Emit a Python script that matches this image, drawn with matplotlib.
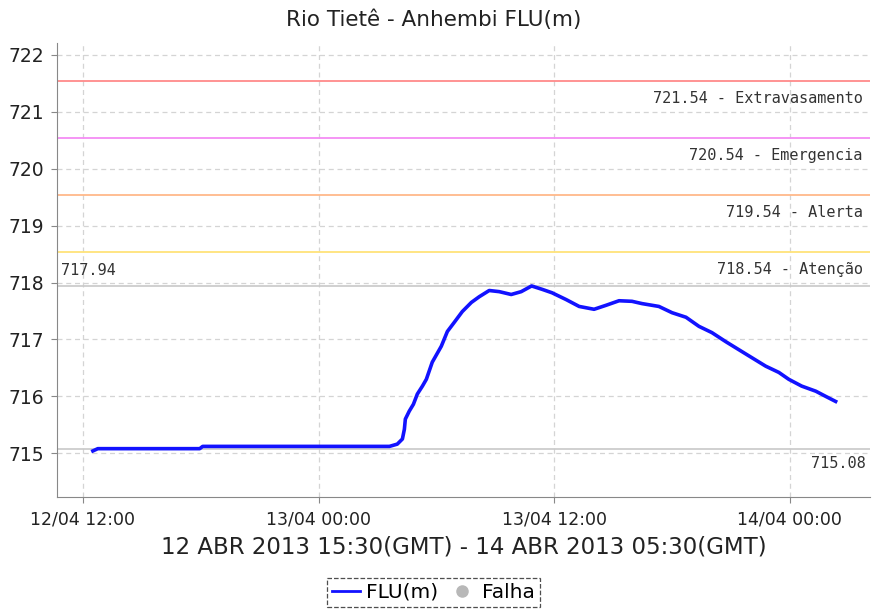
import numpy as np
import pandas as pd
import matplotlib
matplotlib.use('Agg')
import matplotlib.pyplot as plt
import matplotlib.dates as mdates
from matplotlib.lines import Line2D

# Leituras do nível (horas a partir de 12/04 12:00, valor em m)
horas = [0.51, 0.76, 5.95, 6.10, 15.61, 16.01, 16.27, 16.37, 16.42, 16.62,
         16.83, 17.03, 17.29, 17.49, 17.79, 18.25, 18.56, 18.91, 19.32, 19.78,
         20.18, 20.69, 21.20, 21.81, 22.32, 22.85, 23.39, 23.89, 24.61, 25.27,
         26.03, 26.64, 27.30, 27.96, 28.47, 29.33, 30.00, 30.71, 31.37, 32.03,
         32.74, 33.40, 34.06, 34.77, 35.44, 35.94, 36.60, 37.32, 37.82, 38.33]
nivel = [715.04, 715.08, 715.08, 715.12, 715.12, 715.16, 715.25, 715.42, 715.60, 715.74,
         715.86, 716.04, 716.18, 716.30, 716.60, 716.88, 717.14, 717.30, 717.49, 717.65,
         717.75, 717.86, 717.84, 717.79, 717.84, 717.94, 717.88, 717.82, 717.70, 717.58,
         717.53, 717.60, 717.68, 717.67, 717.63, 717.58, 717.47, 717.39, 717.23, 717.12,
         716.96, 716.82, 716.68, 716.53, 716.42, 716.30, 716.18, 716.09, 716.00, 715.91]

# Cotas de referência
cotas = [721.54, 720.54, 719.54, 718.54]
cotas_nomes = ['Extravasamento', 'Emergencia', 'Alerta', 'Atenção']
cotas_cores = ['#ff8a8a', '#f58cf5', '#ffb98a', '#ffe37a']
nivel_max = 717.94
nivel_min = 715.08

inicio = pd.Timestamp('2013-04-12 12:00')
tempos = [inicio + pd.Timedelta(hours=h) for h in horas]

fig = plt.figure(figsize=(8.72, 6.13), dpi=100)
ax = fig.add_axes([0.0654, 0.1892, 0.932, 0.7406])

mono = dict(family='DejaVu Sans Mono', fontsize=11, color='#333333')

# Linhas de cota
for c, nome, cor in zip(cotas, cotas_nomes, cotas_cores):
    ax.axhline(c, color=cor, lw=1.3, zorder=2)
    ax.annotate(f'{c:.2f} - {nome}', xy=(1, c), xycoords=('axes fraction', 'data'),
                xytext=(-5, -12.5), textcoords='offset points', ha='right', va='center',
                **mono)

# Máximo e mínimo
ax.axhline(nivel_max, color='#c8c8c8', lw=1.2, zorder=2)
ax.axhline(nivel_min, color='#c8c8c8', lw=1.2, zorder=2)
ax.annotate(f'{nivel_max:.2f}', xy=(0, nivel_max), xycoords=('axes fraction', 'data'),
            xytext=(3, 11), textcoords='offset points', ha='left', va='center', **mono)
ax.annotate(f'{nivel_min:.2f}', xy=(1, nivel_min), xycoords=('axes fraction', 'data'),
            xytext=(-3, -11), textcoords='offset points', ha='right', va='center', **mono)

ax.plot(tempos, nivel, color='#1212ff', lw=2.6, zorder=3)

ax.set_xlim(pd.Timestamp('2013-04-12 10:41'), pd.Timestamp('2013-04-14 04:04'))
ax.set_ylim(714.23, 722.21)
ax.set_yticks(range(715, 723))
ax.xaxis.set_major_locator(mdates.HourLocator(byhour=[0, 12]))
ax.xaxis.set_major_formatter(mdates.DateFormatter('%d/%m %H:%M'))

ax.grid(True, color='#d4d4d4', linestyle=(0, (4, 3)), lw=0.9)
ax.set_axisbelow(True)
for s in ['top', 'right']:
    ax.spines[s].set_visible(False)
for s in ['left', 'bottom']:
    ax.spines[s].set_color('#888888')
ax.tick_params(axis='y', labelsize=13.5, colors='#222222', length=4, color='#888888', pad=5)
ax.tick_params(axis='x', labelsize=12.5, colors='#222222', length=4, color='#888888', pad=6)

ax.set_xlabel('12 ABR 2013 15:30(GMT) - 14 ABR 2013 05:30(GMT)', fontsize=16.5,
              color='#222222', labelpad=5)
fig.text(0.497, 0.968, 'Rio Tietê - Anhembi FLU(m)', ha='center', va='center',
         fontsize=15.5, color='#222222')

handles = [Line2D([], [], color='#1212ff', lw=2),
           Line2D([], [], color='#b8b8b8', marker='o', ls='none', markersize=8)]
leg = fig.legend(handles, ['FLU(m)', 'Falha'], loc='center', bbox_to_anchor=(0.497, 0.034),
                 ncol=2, fontsize=14.5, handlelength=1.4, handletextpad=0.3,
                 columnspacing=0.5, borderpad=0.25, fancybox=False)
leg.get_frame().set_edgecolor('#222222')
leg.get_frame().set_linestyle('--')
leg.get_frame().set_linewidth(0.9)

fig.savefig('out.png', dpi=100)
